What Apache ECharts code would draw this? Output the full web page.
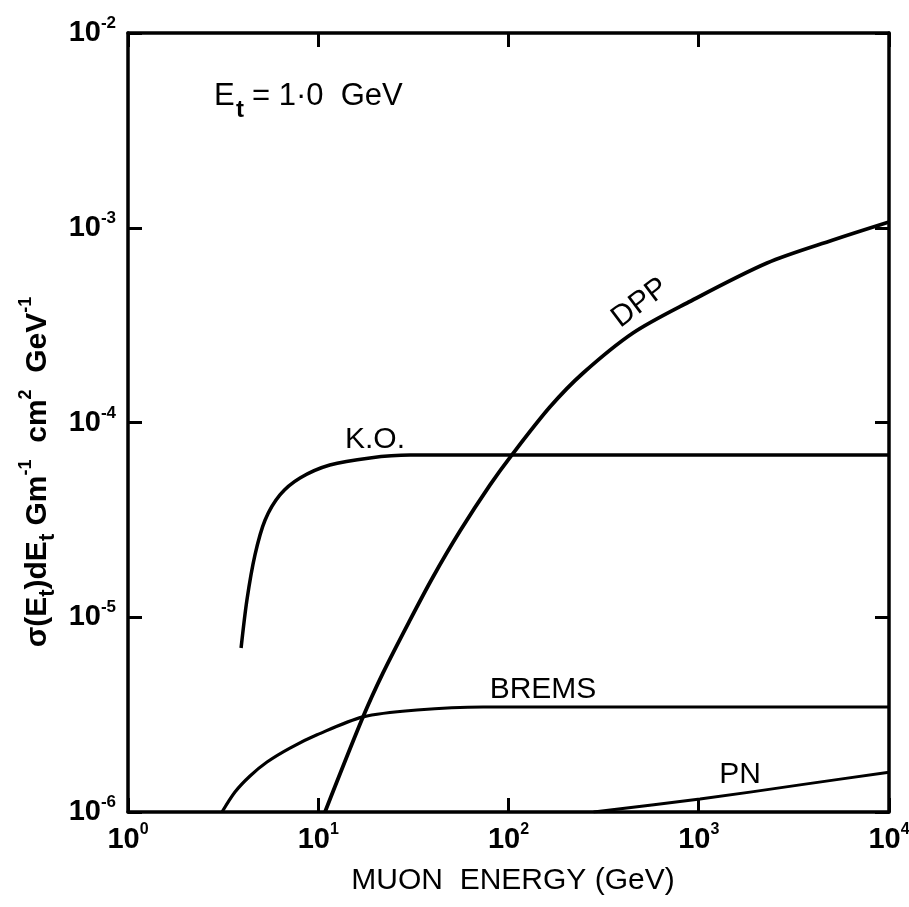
<!DOCTYPE html>
<html>
<head>
<meta charset="utf-8">
<script src="https://cdn.jsdelivr.net/npm/echarts@6/dist/echarts.min.js"></script>
<style>html,body{margin:0;padding:0;background:#fff}#c{width:909px;height:907px}</style>
</head>
<body>
<div id="c"></div>
<script>
// ---- data ----
const xTickExps = [0, 1, 2, 3, 4];
const yTickExps = [-6, -5, -4, -3, -2];

const koX   = [3.93, 4.22, 4.65, 5.25, 6.29, 8.02, 11.5, 18.7, 30.4, 100, 1000, 10000];
const koY   = [6.95e-6, 1.23e-5, 2.09e-5, 3.15e-5, 4.25e-5, 5.19e-5, 6.05e-5, 6.58e-5, 6.8e-5, 6.8e-5, 6.8e-5, 6.8e-5];

const dppX  = [10.85, 17.2, 21.9, 30.4, 40.1, 55.6, 80, 104, 165, 246, 451, 868, 2285, 5078, 10000];
const dppY  = [1e-6, 3.08e-6, 5.18e-6, 9.7e-6, 1.61e-5, 2.77e-5, 4.78e-5, 6.8e-5, 1.2e-4, 1.79e-4, 2.88e-4, 4.11e-4, 6.59e-4, 8.65e-4, 1.07e-3];

const bremsX = [3.12, 3.65, 4.38, 5.38, 7.10, 9.85, 17.2, 33, 73.5, 1000, 10000];
const bremsY = [1e-6, 1.267e-6, 1.531e-6, 1.806e-6, 2.13e-6, 2.49e-6, 3.08e-6, 3.34e-6, 3.46e-6, 3.46e-6, 3.46e-6];

const pnX = [280, 1015, 3405, 10000];
const pnY = [1e-6, 1.166e-6, 1.377e-6, 1.6e-6];

const seriesNames = ['K.O.', 'DPP', 'BREMS', 'PN'];

// ---- chart ----
const FONT = 'Liberation Sans';
const pair = (xs, ys) => xs.map((x, i) => [x, ys[i]]);
const expOf = v => Math.round(Math.log10(v));
const tickRichX = {
  b: { fontFamily: FONT, fontSize: 29, fontWeight: 'bold', lineHeight: 36, color: '#000' },
  s: { fontFamily: FONT, fontSize: 16, fontWeight: 'bold', lineHeight: 18, verticalAlign: 'top', color: '#000' }
};
const tickRichY = {
  b: { fontFamily: FONT, fontSize: 29, fontWeight: 'bold', lineHeight: 36, color: '#000' },
  s: { fontFamily: FONT, fontSize: 17, fontWeight: 'bold', lineHeight: 18, verticalAlign: 'top', color: '#000' }
};
const tickFmt = v => '{b|10}{s|' + expOf(v) + '}';

const frameLine = { show: true, lineStyle: { color: '#000', width: 3.5 } };
const tickStyle = { show: true, inside: true, length: 14, lineStyle: { color: '#000', width: 3 } };

const lineSeries = (name, xs, ys, w) => ({
  name, type: 'line', data: pair(xs, ys), showSymbol: false, symbol: 'none',
  smooth: 0.3,
  lineStyle: { color: '#000', width: w }, clip: true, silent: true
});

const chart = echarts.init(document.getElementById('c'), null, { renderer: 'canvas' });
chart.setOption({
  animation: false,
  backgroundColor: '#fff',
  grid: { left: 128, right: 20, top: 33, bottom: 95, containLabel: false, outerBoundsMode: 'none' },
  xAxis: [
    { type: 'log', logBase: 10, min: Math.pow(10, xTickExps[0]), max: Math.pow(10, xTickExps[xTickExps.length - 1]),
      position: 'bottom', axisLine: frameLine, axisTick: tickStyle, splitLine: { show: false }, minorTick: { show: false },
      axisLabel: { show: true, margin: 10, formatter: tickFmt, rich: tickRichX, showMinLabel: true, showMaxLabel: true, hideOverlap: false } },
    { type: 'log', logBase: 10, min: Math.pow(10, xTickExps[0]), max: Math.pow(10, xTickExps[xTickExps.length - 1]),
      position: 'top', axisLine: frameLine, axisTick: tickStyle, splitLine: { show: false }, axisLabel: { show: false } }
  ],
  yAxis: [
    { type: 'log', logBase: 10, min: Math.pow(10, yTickExps[0]), max: Math.pow(10, yTickExps[yTickExps.length - 1]),
      position: 'left', axisLine: frameLine, axisTick: tickStyle, splitLine: { show: false }, minorTick: { show: false },
      axisLabel: { show: true, margin: 12, formatter: tickFmt, rich: tickRichY, showMinLabel: true, showMaxLabel: true, hideOverlap: false } },
    { type: 'log', logBase: 10, min: Math.pow(10, yTickExps[0]), max: Math.pow(10, yTickExps[yTickExps.length - 1]),
      position: 'right', axisLine: frameLine, axisTick: tickStyle, splitLine: { show: false }, axisLabel: { show: false } }
  ],
  series: [
    lineSeries(seriesNames[0], koX, koY, 3.5),
    lineSeries(seriesNames[1], dppX, dppY, 3.8),
    lineSeries(seriesNames[2], bremsX, bremsY, 3.2),
    lineSeries(seriesNames[3], pnX, pnY, 2.8)
  ],
  graphic: [
    // curve labels
    { type: 'text', x: 375, y: 440, style: { text: seriesNames[0], font: '30px ' + FONT, fill: '#000', align: 'center', verticalAlign: 'middle' } },
    { type: 'text', x: 640, y: 303, rotation: 37 * Math.PI / 180, style: { text: seriesNames[1], font: '30px ' + FONT, fill: '#000', align: 'center', verticalAlign: 'middle' } },
    { type: 'text', x: 543, y: 690, style: { text: seriesNames[2], font: '30px ' + FONT, fill: '#000', align: 'center', verticalAlign: 'middle' } },
    { type: 'text', x: 740, y: 775, style: { text: seriesNames[3], font: '30px ' + FONT, fill: '#000', align: 'center', verticalAlign: 'middle' } },
    // E_t annotation
    { type: 'text', x: 214, y: 96, style: { text: 'E', font: '31px ' + FONT, fill: '#000', align: 'left', verticalAlign: 'middle' } },
    { type: 'text', x: 236, y: 110, style: { text: 't', font: 'bold 24px ' + FONT, fill: '#000', align: 'left', verticalAlign: 'middle' } },
    { type: 'text', x: 252, y: 96, style: { text: '= 1·0  GeV', font: '31px ' + FONT, fill: '#000', align: 'left', verticalAlign: 'middle' } },
    // x axis title
    { type: 'text', x: 513, y: 881, style: { text: 'MUON  ENERGY (GeV)', font: '30px ' + FONT, fill: '#000', align: 'center', verticalAlign: 'middle' } },
    // y axis title
    { type: 'text', x: 38, y: 472, rotation: Math.PI / 2,
      style: {
        text: '{b|σ(E}{d|t}{b|)dE}{d|t}{b| Gm}{u|-1}{b|  cm}{u|2}{b|  GeV}{u|-1}',
        align: 'center', verticalAlign: 'middle',
        rich: {
          b: { fontFamily: FONT, fontSize: 30, fontWeight: 'bold', lineHeight: 42, fill: '#000', color: '#000' },
          d: { fontFamily: FONT, fontSize: 22, lineHeight: 20, verticalAlign: 'bottom', fill: '#000', color: '#000', fontWeight: 'bold' },
          u: { fontFamily: FONT, fontSize: 18, lineHeight: 17, verticalAlign: 'top', fill: '#000', color: '#000', fontWeight: 'bold' }
        }
      } }
  ]
});
</script>
</body>
</html>
